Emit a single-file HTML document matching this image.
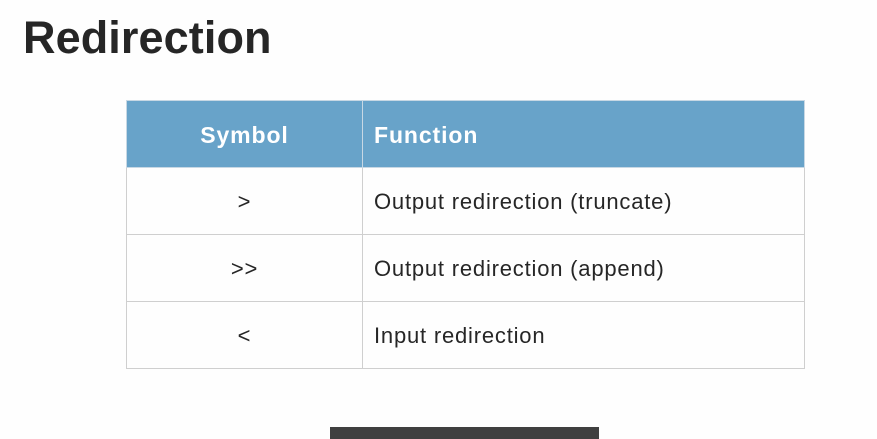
<!DOCTYPE html>
<html><head><meta charset="utf-8"><style>
body{margin:0;width:877px;height:439px;background:#fefefe;position:relative;overflow:hidden;font-family:"Liberation Sans",sans-serif}
.t{position:absolute;left:23px;top:12px;font-size:45px;font-weight:bold;color:#262626;letter-spacing:0.1px}
table{position:absolute;left:126px;top:100px;border-collapse:collapse;width:679px}
td,th{border:1.5px solid #cfcfcf;height:64px;padding:2px 0 0 0;font-size:22px;letter-spacing:0.8px;color:#262626}
th{background:#68a3c9;color:#fff;font-weight:bold;font-size:23px;letter-spacing:0.9px;border-color:#c8d8e4}
.c1{width:235px;text-align:center}
.c2{text-align:left;padding-left:11px}
.bar{position:absolute;left:330px;top:427px;width:269px;height:12px;background:#404040}
</style></head><body>
<div class="t">Redirection</div>
<table>
<tr><th class="c1">Symbol</th><th class="c2">Function</th></tr>
<tr><td class="c1">&gt;</td><td class="c2">Output redirection (truncate)</td></tr>
<tr><td class="c1">&gt;&gt;</td><td class="c2">Output redirection (append)</td></tr>
<tr><td class="c1">&lt;</td><td class="c2">Input redirection</td></tr>
</table>
<div class="bar"></div>
</body></html>
